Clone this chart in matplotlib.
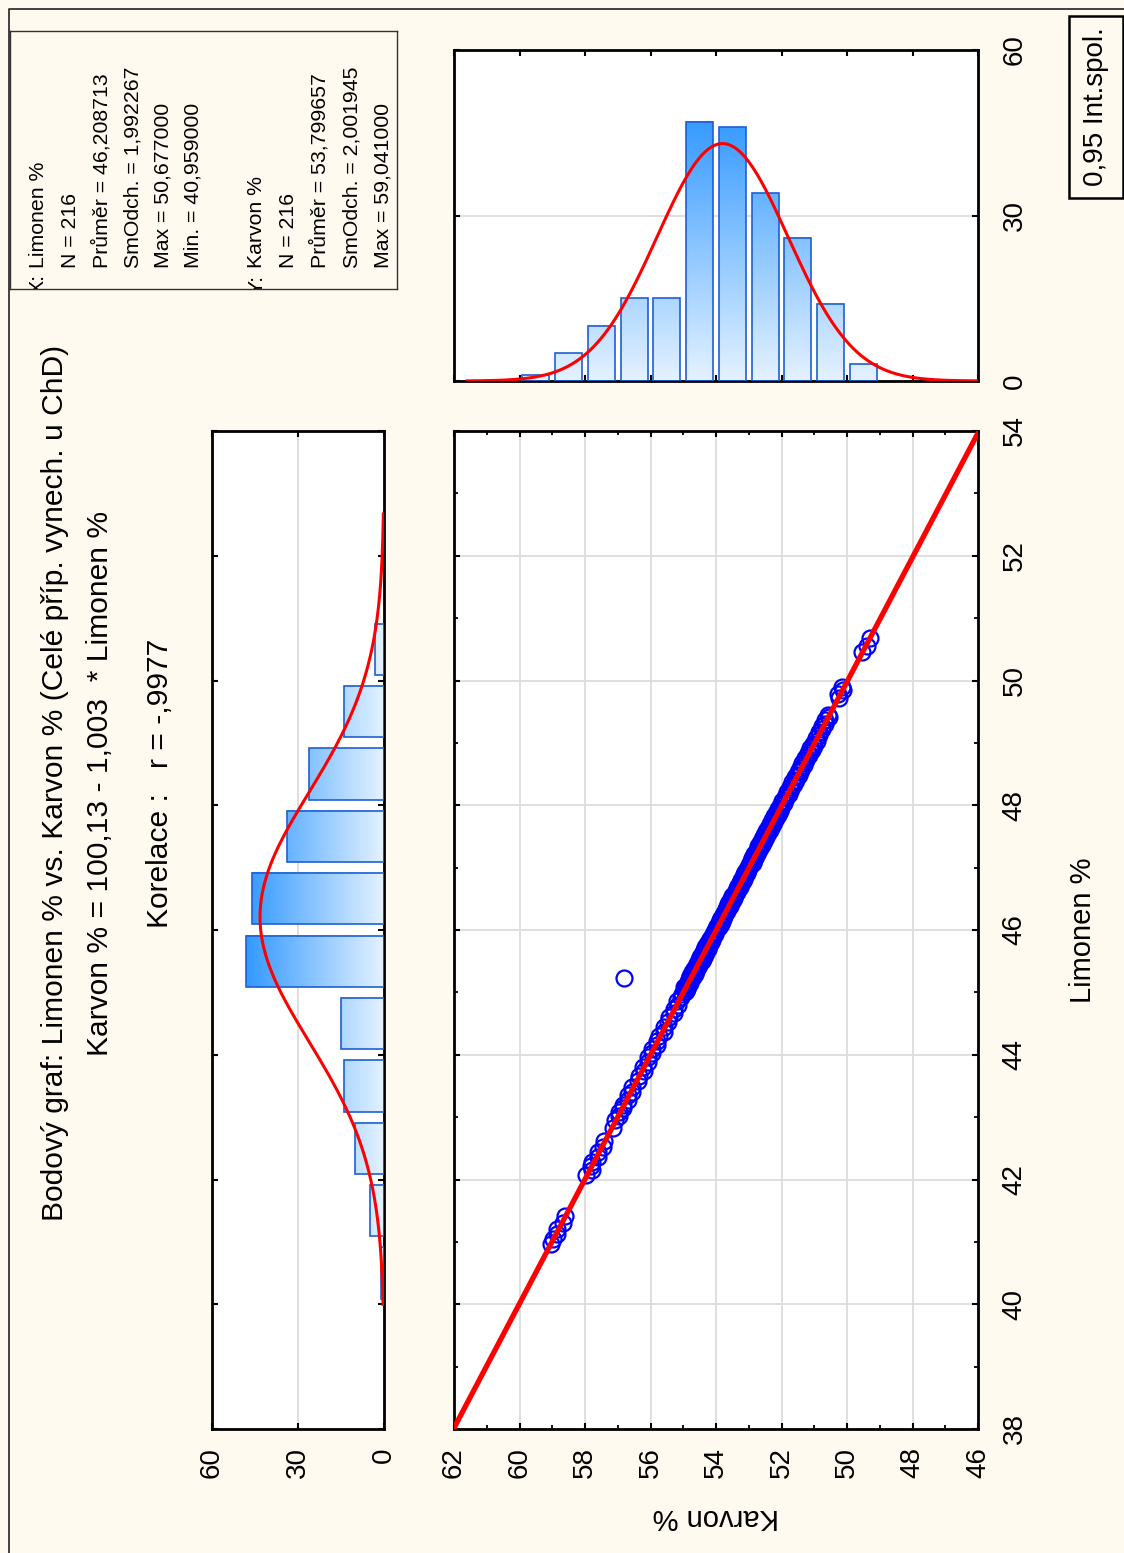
import numpy as np
import matplotlib
matplotlib.use("Agg")
import matplotlib.pyplot as plt
from matplotlib import font_manager
from matplotlib.colors import LinearSegmentedColormap, Normalize
from matplotlib.patches import Rectangle
from matplotlib.lines import Line2D

# ---- data ----
limonen = [40.96,
           41.05, 41.12, 41.20, 41.31, 41.42,
           42.08, 42.15, 42.21, 42.28, 42.36, 42.44, 42.52, 42.61, 42.83, 42.95,
           43.02, 43.08, 43.14, 43.20, 43.27, 43.35, 43.41, 43.48, 43.58, 43.66, 43.74, 43.81, 43.89, 43.96,
           44.03, 44.10, 44.16, 44.22, 44.30, 44.37, 44.45, 44.52, 44.60, 44.67, 44.73, 44.80, 44.86, 44.92, 44.98,
           45.23,
           45.01, 45.03, 45.05, 45.07, 45.09, 45.11, 45.13, 45.15, 45.17, 45.19,
           45.21, 45.24, 45.26, 45.28, 45.30, 45.32, 45.34, 45.36, 45.38, 45.40,
           45.42, 45.44, 45.46, 45.48, 45.50, 45.52, 45.54, 45.56, 45.58, 45.60,
           45.62, 45.64, 45.66, 45.68, 45.70, 45.72, 45.74, 45.76, 45.78, 45.80,
           45.82, 45.84, 45.86, 45.88, 45.91, 45.94, 45.97,
           46.01, 46.03, 46.05, 46.07, 46.09, 46.12, 46.14, 46.16, 46.18, 46.20,
           46.22, 46.24, 46.26, 46.28, 46.31, 46.33, 46.35, 46.37, 46.39, 46.41,
           46.43, 46.45, 46.48, 46.50, 46.52, 46.54, 46.56, 46.58, 46.61, 46.63,
           46.65, 46.67, 46.69, 46.71, 46.74, 46.76, 46.78, 46.80, 46.82, 46.85,
           46.87, 46.89, 46.91, 46.93, 46.96, 46.98,
           47.02, 47.05, 47.08, 47.10, 47.13, 47.16, 47.19, 47.22, 47.25, 47.28,
           47.31, 47.34, 47.37, 47.40, 47.43, 47.46, 47.49, 47.52, 47.55, 47.58,
           47.61, 47.64, 47.67, 47.70, 47.73, 47.76, 47.79, 47.82, 47.85, 47.88,
           47.91, 47.94, 47.96, 47.99,
           48.03, 48.07, 48.11, 48.14, 48.18, 48.22, 48.26, 48.30, 48.34, 48.37,
           48.41, 48.45, 48.49, 48.53, 48.57, 48.60, 48.64, 48.68, 48.72, 48.76,
           48.80, 48.84, 48.88, 48.91, 48.95, 48.98,
           49.03, 49.08, 49.13, 49.18, 49.22, 49.27, 49.31, 49.36, 49.41, 49.45, 49.72, 49.78, 49.84, 49.90,
           50.45, 50.56, 50.68]

karvon = [59.04,
          58.98, 58.85, 58.84, 58.66, 58.61,
          57.96, 57.80, 57.81, 57.78, 57.61, 57.61, 57.44, 57.42, 57.15, 57.09,
          56.95, 56.97, 56.84, 56.83, 56.68, 56.69, 56.58, 56.58, 56.38, 56.36, 56.20, 56.22, 56.09, 56.09,
          55.94, 55.94, 55.79, 55.80, 55.75, 55.60, 55.59, 55.46, 55.43, 55.28, 55.29, 55.17, 55.18, 55.06, 55.05,
          56.82,
          54.96, 54.93, 54.89, 54.95, 54.98, 54.85, 54.88, 54.78, 54.87, 54.79,
          54.82, 54.71, 54.80, 54.75, 54.64, 54.72, 54.61, 54.68, 54.66, 54.54,
          54.62, 54.51, 54.58, 54.55, 54.44, 54.53, 54.41, 54.49, 54.46, 54.35,
          54.43, 54.31, 54.38, 54.36, 54.24, 54.33, 54.21, 54.28, 54.26, 54.15,
          54.22, 54.11, 54.18, 54.09, 54.13, 54.02, 54.06,
          53.96, 54.01, 53.92, 53.97, 53.86, 53.91, 53.82, 53.89, 53.79, 53.84,
          53.75, 53.80, 53.71, 53.76, 53.66, 53.70, 53.62, 53.67, 53.58, 53.63,
          53.54, 53.59, 53.49, 53.53, 53.45, 53.50, 53.41, 53.46, 53.36, 53.40,
          53.32, 53.37, 53.28, 53.33, 53.23, 53.27, 53.19, 53.24, 53.15, 53.19,
          53.10, 53.15, 53.06, 53.11, 53.01, 53.06,
          52.96, 53.00, 52.88, 52.94, 52.84, 52.89, 52.78, 52.83, 52.72, 52.76,
          52.66, 52.71, 52.60, 52.65, 52.54, 52.59, 52.48, 52.53, 52.42, 52.47,
          52.36, 52.41, 52.30, 52.35, 52.24, 52.29, 52.18, 52.23, 52.12, 52.17,
          52.06, 52.11, 52.01, 52.05,
          51.93, 51.97, 51.85, 51.90, 51.78, 51.82, 51.70, 51.75, 51.62, 51.67,
          51.55, 51.59, 51.47, 51.51, 51.39, 51.44, 51.32, 51.36, 51.24, 51.28,
          51.16, 51.20, 51.08, 51.13, 51.01, 51.05,
          50.93, 50.96, 50.84, 50.86, 50.75, 50.77, 50.66, 50.68, 50.56, 50.59, 50.25, 50.26, 50.13, 50.14,
          49.53, 49.40, 49.30]

lim_bins = [40, 41, 42, 43, 44, 45, 46, 47, 48, 49, 50]
lim_counts = [1, 5, 10, 14, 15, 48, 46, 34, 26, 14, 3]
karv_bins = [49, 50, 51, 52, 53, 54, 55, 56, 57, 58, 59]
karv_counts = [3, 14, 26, 34, 46, 47, 15, 15, 10, 5, 1]

n = 216
lim_mean, lim_sd = 46.208713, 1.992267
karv_mean, karv_sd = 53.799657, 2.001945
b0, b1 = 100.13, -1.003

lim_stats = ["Limonen %", "N = 216", "Průměr = 46,208713", "SmOdch. = 1,992267",
             "Max = 50,677000", "Min. = 40,959000"]
karv_stats = ["Karvon %", "N = 216", "Průměr = 53,799657", "SmOdch. = 2,001945",
              "Max = 59,041000"]

title_lines = ["Bodový graf: Limonen % vs. Karvon % (Celé příp. vynech. u ChD)",
               "Karvon % = 100,13 - 1,003  * Limonen %",
               "Korelace :   r = -,9977"]

# ---- figure ----
W, H = 1124, 1553
BG = "#FFFAEF"
names = {f.name for f in font_manager.fontManager.ttflist}
NARROW = "Liberation Sans Narrow" if "Liberation Sans Narrow" in names else "Liberation Sans"
k = 1.0 if NARROW == "Liberation Sans Narrow" else 0.83
plt.rcParams["font.family"] = ["Liberation Sans", "DejaVu Sans"]

fig = plt.figure(figsize=(W / 100, H / 100), dpi=100)
fig.patch.set_facecolor(BG)


def px_axes(l, t, r, b):
    return fig.add_axes([l / W, 1 - b / H, (r - l) / W, (b - t) / H])


def fx(x):
    return x / W


def fy(y):
    return 1 - y / H


def style(ax):
    for s in ax.spines.values():
        s.set_linewidth(2.0)
        s.set_color("black")
    ax.tick_params(which="both", direction="in", top=True, bottom=True, left=True, right=True,
                   color="black", labelsize=20)
    ax.tick_params(which="major", length=4.5, width=1.5)
    ax.tick_params(which="minor", length=3, width=1.3)


cmap = LinearSegmentedColormap.from_list("bars", ["#E4F2FF", "#3399FF"])
norm = Normalize(0, 48)
EDGE = "#1F5FD6"

# scatter
ax = px_axes(454, 431, 978, 1429)
ax.set_facecolor("white")
ax.plot(karvon, limonen, "o", mfc="none", mec="#0000FF", ms=11.5, mew=1.6, zorder=3)
lx = np.array([38, 54])
ax.plot(b0 + b1 * lx, lx, color="#FF0000", lw=3.8, zorder=4)
ax.set_xlim(62, 46)
ax.set_ylim(38, 54)
ax.set_xticks(range(62, 45, -2))
ax.set_xticks(range(61, 46, -2), minor=True)
ax.set_yticks(range(38, 55, 2))
ax.set_yticks(range(39, 54, 2), minor=True)
ax.grid(True, which="major", color="#DCDCDC", lw=1.3, zorder=0)
ax.set_axisbelow(True)
style(ax)
ax.tick_params(labelbottom=True, labelleft=False, labelright=True, labeltop=False)
ax.tick_params(axis="x", pad=13, labelrotation=90)
ax.tick_params(axis="y", pad=17, labelrotation=90)
for lab in ax.get_yticklabels():
    lab.set_va("center")

# right histogram (Karvon)
axr = px_axes(454, 50, 978, 381)
axr.set_facecolor("white")
bw = 0.82
for lo, c in zip(karv_bins, karv_counts):
    if c == 0:
        continue
    x0, x1 = lo + 0.5 - bw / 2, lo + 0.5 + bw / 2
    grad = np.linspace(0, c, 128)[:, None]
    axr.imshow(grad, extent=(x0, x1, 0, c), origin="lower", aspect="auto",
               cmap=cmap, norm=norm, zorder=2, interpolation="bilinear")
    axr.add_patch(Rectangle((x0, 0), bw, c, fc="none", ec=EDGE, lw=1.2, zorder=3))
kx = np.linspace(46, 61.6, 400)
axr.plot(kx, n * np.exp(-0.5 * ((kx - karv_mean) / karv_sd) ** 2) / (karv_sd * np.sqrt(2 * np.pi)),
         color="#FF0000", lw=2.2, zorder=4)
axr.set_xlim(62, 46)
axr.set_ylim(0, 60)
axr.set_xticks(range(62, 45, -2))
axr.set_yticks([0, 30, 60])
axr.yaxis.grid(True, color="#DCDCDC", lw=1.3, zorder=0)
axr.set_axisbelow(True)
style(axr)
axr.tick_params(labelbottom=False, labelleft=False, labelright=True, labeltop=False)
axr.tick_params(axis="y", pad=17, labelrotation=90)
for lab in axr.get_yticklabels():
    lab.set_va("center")

# left histogram (Limonen)
axl = px_axes(212, 431, 384, 1429)
axl.set_facecolor("white")
for lo, c in zip(lim_bins, lim_counts):
    if c == 0:
        continue
    y0 = lo + 0.5 - bw / 2
    grad = np.linspace(0, c, 128)[None, :]
    axl.imshow(grad, extent=(0, c, y0, y0 + bw), origin="lower", aspect="auto",
               cmap=cmap, norm=norm, zorder=2, interpolation="bilinear")
    axl.add_patch(Rectangle((0, y0), c, bw, fc="none", ec=EDGE, lw=1.2, zorder=3))
ly = np.linspace(40, 52.67, 400)
axl.plot(n * np.exp(-0.5 * ((ly - lim_mean) / lim_sd) ** 2) / (lim_sd * np.sqrt(2 * np.pi)), ly,
         color="#FF0000", lw=2.2, zorder=4)
axl.set_xlim(60, 0)
axl.set_ylim(38, 54)
axl.set_xticks([60, 30, 0])
axl.set_yticks(range(38, 55, 2))
axl.xaxis.grid(True, color="#DCDCDC", lw=1.3, zorder=0)
axl.set_axisbelow(True)
style(axl)
axl.tick_params(labelbottom=True, labelleft=False, labelright=False, labeltop=False)
axl.tick_params(axis="x", pad=13, labelrotation=90)

# axis titles
fig.text(fx(1083), fy(930), "Limonen %", rotation=90, ha="center", va="center", fontsize=21)
fig.text(fx(716), fy(1517), "Karvon %", rotation=180, ha="center", va="center", fontsize=21)

# title block
for xpos, line in zip([55, 100, 160], title_lines):
    fig.text(fx(xpos), fy(783), line, rotation=90, ha="center", va="center",
             fontsize=26 * k, family=[NARROW, "DejaVu Sans"])

# statistics box
axs = px_axes(10, 31, 397, 289)
axs.set_facecolor(BG)
axs.set_xticks([])
axs.set_yticks([])
for s in axs.spines.values():
    s.set_linewidth(1.0)
    s.set_color("#333333")
for xs, lines, tag in [([38, 70, 102, 133, 163, 193], lim_stats, "X:"),
                       ([257, 288, 320, 352, 383], karv_stats, "Y:")]:
    axs.text(fx(xs[0]), fy(294), tag, transform=fig.transFigure, rotation=90,
             rotation_mode="anchor", ha="left", va="center", fontsize=18.5 * k,
             family=[NARROW, "DejaVu Sans"], clip_on=True)
    for xp, line in zip(xs, lines):
        axs.text(fx(xp), fy(268), line, transform=fig.transFigure, rotation=90,
                 rotation_mode="anchor", ha="left", va="center", fontsize=18.5 * k,
                 family=[NARROW, "DejaVu Sans"], clip_on=True)

# confidence legend box
fig.patches.append(Rectangle((fx(1069), fy(198)), fx(1123) - fx(1069), fy(16) - fy(198),
                             transform=fig.transFigure, fc=BG, ec="black", lw=1.8))
fig.text(fx(1096), fy(107), "0,95 Int.spol.", rotation=90, ha="center", va="center", fontsize=20)

# outer frame (left and top only)
fig.add_artist(Line2D([fx(9), fx(9), fx(W + 5)], [fy(H + 5), fy(9), fy(9)],
                      transform=fig.transFigure, color="#222222", lw=1.2))

fig.savefig("out.png", dpi=100, facecolor=BG)
